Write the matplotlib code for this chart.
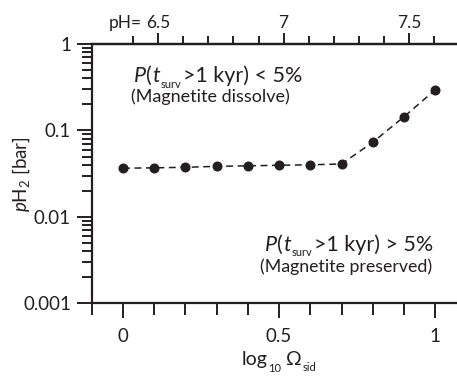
import numpy as np
import matplotlib
matplotlib.use('Agg')
import matplotlib.pyplot as plt
from matplotlib.transforms import IdentityTransform
from matplotlib.ticker import FixedLocator, MultipleLocator, LogLocator, NullFormatter

plt.rcParams['font.family'] = ['Lato', 'DejaVu Sans']
plt.rcParams['mathtext.fontset'] = 'custom'
plt.rcParams['mathtext.rm'] = 'Lato'
plt.rcParams['mathtext.it'] = 'Lato:italic'

ink = '#231f20'
W, H = 457, 376

# data
log_omega = [0.0, 0.1, 0.2, 0.3, 0.4, 0.5, 0.6, 0.7, 0.8, 0.9, 1.0]
p_h2 = [0.0366, 0.0370, 0.0375, 0.0385, 0.0390, 0.0396, 0.0401, 0.0410, 0.073, 0.144, 0.294]

ph_major = [6.5, 7.0, 7.5]
ph_labels = ['6.5', '7', '7.5']
ph_minor = [6.4, 6.5, 6.6, 6.7, 6.8, 6.9, 7.0, 7.1, 7.2, 7.3, 7.4, 7.5, 7.6]

# linear mapping between log Omega and pH on the top axis
ph0, ph_slope = 6.3605, 1.243

fig = plt.figure(figsize=(W / 100, H / 100), dpi=100)
ax = fig.add_axes([0.201, 0.193, 0.799, 0.690])

ax.plot(log_omega, p_h2, ls=(0, (4.5, 3)), lw=1.1, color=ink,
        marker='o', ms=6.2, mfc=ink, mec=ink)

ax.set_yscale('log')
ax.set_ylim(0.001, 1)
ax.set_xlim(-0.1, 1.07)

ax.xaxis.set_major_locator(FixedLocator([0, 0.5, 1]))
ax.xaxis.set_minor_locator(MultipleLocator(0.1))
ax.set_xticklabels(['0', '0.5', '1'])
ax.yaxis.set_minor_locator(LogLocator(base=10, subs=np.arange(2, 10), numticks=10))
ax.yaxis.set_minor_formatter(NullFormatter())
ax.set_yticks([0.001, 0.01, 0.1, 1])
ax.set_yticklabels(['0.001', '0.01', '0.1', '1'])

for s in ['left', 'bottom', 'top']:
    ax.spines[s].set_linewidth(1.6)
    ax.spines[s].set_color(ink)
ax.spines['right'].set_visible(False)

ax.tick_params(which='major', direction='out', length=11, width=1.4, color=ink,
               labelsize=13.5, labelcolor=ink, pad=4)
ax.tick_params(which='minor', direction='out', length=7, width=1.4, color=ink)
ax.tick_params(axis='x', which='major', length=11, pad=7)
ax.tick_params(axis='x', which='minor', length=8.5)

top = ax.secondary_xaxis('top', functions=(lambda x: ph0 + ph_slope * x,
                                           lambda p: (p - ph0) / ph_slope))
top.xaxis.set_major_locator(FixedLocator(ph_major))
top.set_xticklabels(ph_labels)
top.xaxis.set_minor_locator(FixedLocator(ph_minor))
top.spines['top'].set_linewidth(1.6)
top.spines['top'].set_color(ink)
top.tick_params(which='major', direction='out', length=8, width=1.4, color=ink,
                labelsize=12.5, labelcolor=ink, pad=1)
top.tick_params(which='minor', direction='out', length=6, width=1.4, color=ink)

ax.set_ylabel(r'$p$H$_2$ [bar]', fontsize=13.5, color=ink)
ax.yaxis.set_label_coords(-0.165, 0.5)

fig.canvas.draw()
renderer = fig.canvas.get_renderer()


def rich(x, y, parts, ha='left'):
    # parts: (text, size, style, drop px, gap px before); x, y in image pixels from top-left
    texts, cx = [], 0.0
    for s, size, style, drop, gap in parts:
        cx += gap
        t = fig.text(cx, H - y - drop, s, fontsize=size, style=style, color=ink,
                     va='baseline', ha='left', transform=IdentityTransform())
        w = t.get_window_extent(renderer).width
        texts.append((t, cx, H - y - drop))
        cx += w
    shift = {'left': 0, 'center': cx / 2, 'right': cx}[ha]
    for t, tx, ty in texts:
        t.set_position((x + tx - shift, ty))


rich(134, 82, [('P', 15.5, 'italic', 0, 0), ('(', 15.5, 'normal', 0, 0),
               ('t', 15.5, 'italic', 0, 0), ('surv', 8, 'normal', 5.5, 1.5),
               ('>1 kyr) < 5%', 15.5, 'normal', 0, 1.5)])
rich(210, 102, [('(Magnetite dissolve)', 13, 'normal', 0, 0)], ha='center')
rich(265, 251, [('P', 15.5, 'italic', 0, 0), ('(', 15.5, 'normal', 0, 0),
                ('t', 15.5, 'italic', 0, 0), ('surv', 8, 'normal', 5.5, 1.5),
                ('>1 kyr) > 5%', 15.5, 'normal', 0, 1.5)])
rich(346, 272, [('(Magnetite preserved)', 12.8, 'normal', 0, 0)], ha='center')

# x label with small subscripts
rich(279, 365, [('log', 14, 'normal', 0, 0), ('10', 8, 'normal', 6.5, 0.5),
                (' \u03a9', 14, 'normal', 0, 0), ('sid', 8, 'normal', 6, 0.5)], ha='center')

# "pH=" prefix in front of the first top tick label
lab = top.xaxis.get_majorticklabels()[0]
bb = lab.get_window_extent(renderer)
fig.text(bb.x0 - 4, bb.y0, 'pH=', fontsize=12.5, color=ink, va='bottom', ha='right',
         transform=IdentityTransform())

fig.savefig('out.png', dpi=100)
